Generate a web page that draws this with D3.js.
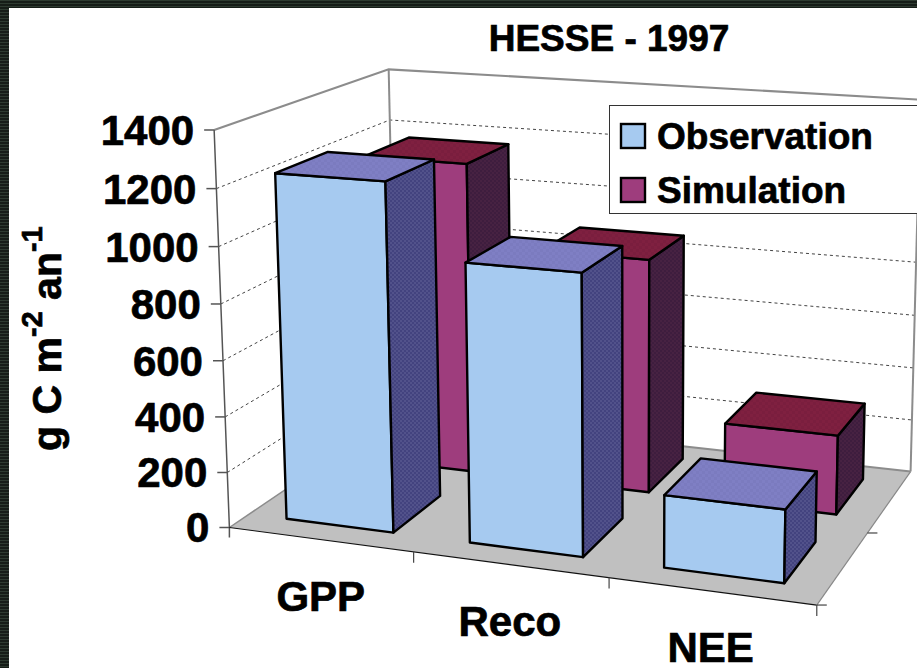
<!DOCTYPE html>
<html><head><meta charset="utf-8">
<script src="https://cdn.jsdelivr.net/npm/d3@7"></script>
<style>html,body{margin:0;padding:0;background:#fff}svg{display:block}text{font-family:"Liberation Sans",Arial,sans-serif;font-weight:bold;fill:#000;stroke:#000;stroke-width:.7px}</style>
</head><body><svg id="c" width="917" height="668"></svg>
<script>
const categories = ["GPP","Reco","NEE"];
const seriesNames = ["Observation","Simulation"];
const observation = [1235,980,252];
const simulation = [1165,865,290];
const yTicks = [0,200,400,600,800,1000,1200,1400];
const titleText = "HESSE - 1997";

// camera calibration: cube corners (u,v,w) and where the reference shows them
const cubeCorners = [[0,0,0],[1,0,0],[1,0,1],[0,0,1],[0,1,0],[0,1,1],[1,1,1],[1/3,0,0],[2/3,0,0]];
const cornerPixels = [[231,527],[817,605],[911,471],[395,415],[213,130],[390,69],[920,100],[413,552],[609,578]];

function solveCamera(){
  const A=[],b=[];
  cubeCorners.forEach(([X,Y,Z],i)=>{
    const x=cornerPixels[i][0]/1000,y=cornerPixels[i][1]/1000;
    A.push([X,Y,Z,1,0,0,0,0,-x*X,-x*Y,-x*Z]);b.push(x);
    A.push([0,0,0,0,X,Y,Z,1,-y*X,-y*Y,-y*Z]);b.push(y);
  });
  const n=11,M=d3.range(n).map(r=>d3.range(n+1).map(c=>d3.sum(A,(a,k)=>a[r]*(c<n?a[c]:b[k]))));
  for(let c=0;c<n;c++){
    let p=c;for(let r=c+1;r<n;r++)if(Math.abs(M[r][c])>Math.abs(M[p][c]))p=r;
    [M[c],M[p]]=[M[p],M[c]];
    for(let r=0;r<n;r++)if(r!==c){const f=M[r][c]/M[c][c];for(let k=c;k<=n;k++)M[r][k]-=f*M[c][k];}
  }
  return M.map((r,i)=>r[n]/r[i]);
}
const P=solveCamera();
function proj(u,v,w){
  const d=P[8]*u+P[9]*v+P[10]*w+1;
  return [1000*(P[0]*u+P[1]*v+P[2]*w+P[3])/d,1000*(P[4]*u+P[5]*v+P[6]*w+P[7])/d];
}

const xBand=d3.scaleBand().domain(categories).range([0,1]).paddingInner(.41).paddingOuter(.21);
const zBand=d3.scaleBand().domain(seriesNames).range([0,1]).paddingInner(.42).paddingOuter(.21);
const yVal=d3.scaleLinear().domain([0,1400]).range([0,1]);

const svg=d3.select("#c");
const defs=svg.append("defs");
function dither(id,a,b,size){
  const p=defs.append("pattern").attr("id",id).attr("width",size).attr("height",size).attr("patternUnits","userSpaceOnUse");
  p.append("rect").attr("width",size).attr("height",size).attr("fill",a);
  p.append("rect").attr("width",size/2).attr("height",size/2).attr("fill",b);
  p.append("rect").attr("x",size/2).attr("y",size/2).attr("width",size/2).attr("height",size/2).attr("fill",b);
}
dither("sideObs","#43437f","#52528b",4);
dither("topObs","#7b7bbf","#7f7fc4",6);
dither("sideSim","#3e1d3e","#472242",4);
dither("topSim","#7a1e3e","#7f2040",6);
const stripe=defs.append("pattern").attr("id","stripe").attr("width",6).attr("height",3).attr("patternUnits","userSpaceOnUse");
stripe.append("rect").attr("width",6).attr("height",3).attr("fill","#161d18");
stripe.append("rect").attr("width",6).attr("height",1).attr("fill","#2e3b31");

const line=pts=>d3.line()(pts);
const poly=pts=>d3.line()(pts)+"Z";

// floor
svg.append("path").attr("d",poly([proj(0,0,0),proj(1,0,0),proj(1,0,1),proj(0,0,1)])).attr("fill","#c0c0c0");

// grid on the two walls
const grid=svg.append("g");
grid.selectAll("path.g").data(yTicks.filter(t=>t>0&&t<1400)).join("path").attr("class","g")
  .attr("d",t=>line([proj(0,yVal(t),0),proj(0,yVal(t),1),proj(1,yVal(t),1)]))
  .attr("fill","none").attr("stroke","#444").attr("stroke-width",1).attr("stroke-dasharray","3,3");
// frame
const frameGray="#8c8c8c";
svg.append("path").attr("d",line([proj(0,1,0),proj(0,1,1),proj(1,1,1)])).attr("fill","none").attr("stroke",frameGray).attr("stroke-width",2.2);
svg.append("path").attr("d",line([proj(0,0,1),proj(0,1,1)])).attr("stroke",frameGray).attr("stroke-width",2);
svg.append("path").attr("d",line([proj(1,0,1),proj(1,1,1)])).attr("stroke",frameGray).attr("stroke-width",2);
svg.append("path").attr("d",line([proj(0,0,1),proj(1,0,1)])).attr("stroke",frameGray).attr("stroke-width",2);
svg.append("path").attr("d",line([proj(0,0,0),proj(0,0,1)])).attr("stroke",frameGray).attr("stroke-width",1.5);

// value axis
const axisCol="#555";
const z0=proj(0,0,0);
svg.append("path").attr("d",line([proj(0,1,0),z0,[z0[0],z0[1]+10]])).attr("fill","none").attr("stroke",axisCol).attr("stroke-width",1.5);
const yAxis=svg.append("g").selectAll("g").data(yTicks).join("g");
yAxis.append("path").attr("d",t=>{const p=proj(0,yVal(t),0);return line([[p[0]-10,p[1]],p]);}).attr("stroke",axisCol).attr("stroke-width",1.5);
yAxis.append("text").attr("text-anchor","end").attr("font-size",42)
  .attr("x",t=>proj(0,yVal(t),0)[0]-20).attr("y",t=>proj(0,yVal(t),0)[1]+15).text(t=>t);

// front and right floor edges, ticks
svg.append("path").attr("d",line([proj(0,0,0),proj(1,0,0)])).attr("stroke","#111").attr("stroke-width",1.2);
svg.append("path").attr("d",line([proj(1,0,0),proj(1,0,1)])).attr("stroke","#888").attr("stroke-width",1.2);
svg.append("g").selectAll("path").data([1/3,2/3,1]).join("path")
  .attr("d",u=>{const p=proj(u,0,0);return line([p,[p[0],p[1]+11]]);}).attr("stroke","#444").attr("stroke-width",1.2);
svg.append("g").selectAll("path").data([0,.5]).join("path")
  .attr("d",w=>{const p=proj(1,0,w);return line([p,[p[0]+10,p[1]]]);}).attr("stroke","#444").attr("stroke-width",1.2);

// bars
const barStyles={
  Observation:{front:"#a6caf0",side:"url(#sideObs)",top:"url(#topObs)",values:observation},
  Simulation:{front:"#9e3d7d",side:"url(#sideSim)",top:"url(#topSim)",values:simulation}
};
const barsG=svg.append("g");
["Simulation","Observation"].forEach(s=>{
  const st=barStyles[s];
  categories.forEach((c,i)=>{
    const u0=xBand(c),u1=u0+xBand.bandwidth(),w0=zBand(s),w1=w0+zBand.bandwidth(),v=yVal(st.values[i]);
    const g=barsG.append("g").attr("stroke","#000").attr("stroke-width",2.4).attr("stroke-linejoin","round");
    g.append("path").attr("d",poly([proj(u0,0,w0),proj(u1,0,w0),proj(u1,v,w0),proj(u0,v,w0)])).attr("fill",st.front);
    g.append("path").attr("d",poly([proj(u1,0,w0),proj(u1,0,w1),proj(u1,v,w1),proj(u1,v,w0)])).attr("fill",st.side);
    g.append("path").attr("d",poly([proj(u0,v,w0),proj(u1,v,w0),proj(u1,v,w1),proj(u0,v,w1)])).attr("fill",st.top);
  });
});

// category labels
svg.append("g").selectAll("text").data(categories).join("text")
  .attr("text-anchor","middle").attr("font-size",42)
  .attr("x",c=>proj(xBand(c)+xBand.bandwidth()/2,0,0)[0])
  .attr("y",c=>proj(xBand(c)+xBand.bandwidth()/2,0,0)[1]+71).text(c=>c);

// title
svg.append("text").attr("x",609).attr("y",51).attr("text-anchor","middle").attr("font-size",37).text(titleText);

// y title
const yt=svg.append("text").attr("transform","translate(61,451) rotate(-90)").attr("font-size",41);
yt.append("tspan").text("g C m");
yt.append("tspan").attr("dy",-19).attr("font-size",29).text("-2");
yt.append("tspan").attr("dy",19).text(" an");
yt.append("tspan").attr("dy",-19).attr("font-size",29).text("-1");

// legend
const lg=svg.append("g");
lg.append("rect").attr("x",609.5).attr("y",105.5).attr("width",320).attr("height",108).attr("fill","#fff").attr("stroke","#333").attr("stroke-width",1);
seriesNames.forEach((s,i)=>{
  const ly=[124,178][i];
  lg.append("rect").attr("x",621).attr("y",ly).attr("width",24).attr("height",24).attr("fill",barStyles[s].front).attr("stroke","#000").attr("stroke-width",2.4);
  lg.append("text").attr("x",657).attr("y",[149,203][i]).attr("font-size",37).text(s);
});

// photographed dark edge of the slide
svg.append("rect").attr("width",917).attr("height",8).attr("fill","url(#stripe)");
svg.append("rect").attr("width",9).attr("height",668).attr("fill","url(#stripe)");
</script></body></html>
